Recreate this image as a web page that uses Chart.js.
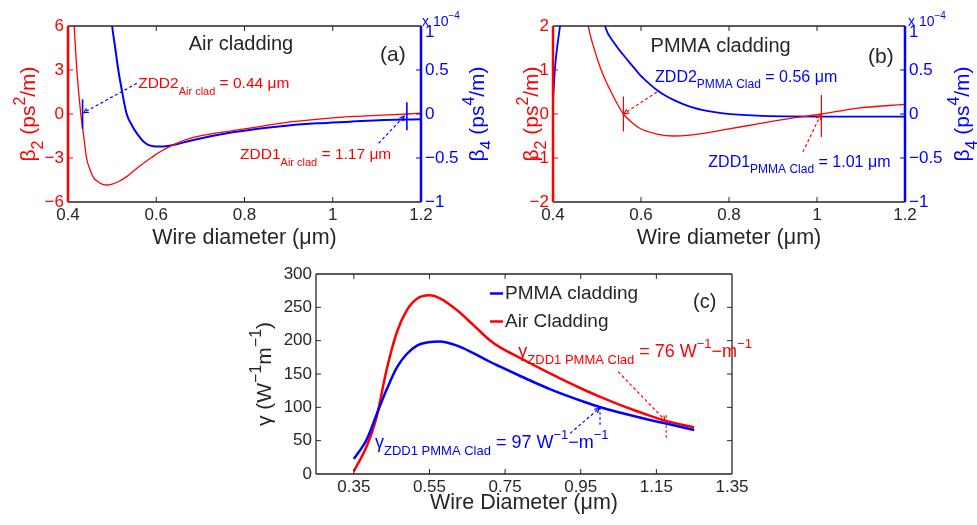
<!DOCTYPE html>
<html>
<head>
<meta charset="utf-8">
<script src="https://cdn.jsdelivr.net/npm/chart.js@4.4.0/dist/chart.umd.min.js"></script>
<style>
  body { margin: 0; background: #fff; width: 977px; height: 525px; position: relative; overflow: hidden; }
  canvas { position: absolute; }
  #chartA { left: 0; top: 0; }
  #chartB { left: 490px; top: 0; }
  #chartC { left: 240px; top: 255px; }
</style>
</head>
<body>
<canvas id="chartA" width="490" height="260"></canvas>
<canvas id="chartB" width="487" height="260"></canvas>
<canvas id="chartC" width="540" height="270"></canvas>
<script>
// ---- (a) Air cladding : beta2 (ps^2/m) and beta4 (x1e-4 ps^4/m) vs wire diameter (um)
const diamAirB2 = [0.411, 0.414, 0.42, 0.429, 0.436, 0.442, 0.45, 0.457, 0.467, 0.477, 0.488, 0.50, 0.515, 0.533, 0.55, 0.571, 0.59, 0.609, 0.646, 0.684, 0.72, 0.76, 0.80, 0.85, 0.90, 0.95, 1.0, 1.05, 1.1, 1.15, 1.17, 1.2];
const beta2Air  = [7.5, 6, 3, 0, -1.6, -3, -3.8, -4.3, -4.6, -4.78, -4.84, -4.78, -4.6, -4.27, -3.85, -3.36, -2.95, -2.57, -2.0, -1.6, -1.38, -1.2, -1.02, -0.78, -0.55, -0.4, -0.27, -0.16, -0.09, -0.03, 0, 0.06];
const diamAirB4 = [0.497, 0.5, 0.507, 0.514, 0.522, 0.533, 0.545, 0.556, 0.575, 0.60, 0.63, 0.684, 0.76, 0.835, 0.90, 0.964, 1.039, 1.115, 1.2];
const beta4Air  = [1.15, 1.0, 0.75, 0.5, 0.27, 0.0, -0.13, -0.22, -0.33, -0.37, -0.36, -0.295, -0.22, -0.165, -0.13, -0.106, -0.087, -0.068, -0.06];

// ---- (b) PMMA cladding
const diamPmmaB2 = [0.477, 0.48, 0.49, 0.507, 0.52, 0.53, 0.545, 0.56, 0.58, 0.598, 0.636, 0.674, 0.711, 0.75, 0.787, 0.863, 0.939, 1.01, 1.09, 1.2];
const beta2Pmma  = [2.2, 2.0, 1.6, 1.07, 0.75, 0.545, 0.25, 0.0, -0.2, -0.33, -0.455, -0.5, -0.48, -0.43, -0.36, -0.23, -0.1, 0.0, 0.13, 0.22];
const diamPmmaB4 = [0.4, 0.405, 0.41, 0.416, 0.42, 0.47, 0.514, 0.518, 0.54, 0.56, 0.58, 0.598, 0.62, 0.636, 0.655, 0.674, 0.711, 0.75, 0.787, 0.863, 0.94, 1.0, 1.1, 1.2];
const beta4Pmma  = [0.15, 0.55, 0.78, 1.0, 1.15, null, 1.1, 1.0, 0.8, 0.67, 0.55, 0.443, 0.34, 0.273, 0.21, 0.16, 0.083, 0.035, 0.008, -0.019, -0.028, -0.03, -0.03, -0.03];

// ---- (c) nonlinear coefficient gamma (W^-1 m^-1)
const diamGammaPmma = [0.35, 0.384, 0.41, 0.437, 0.464, 0.49, 0.517, 0.547, 0.577, 0.623, 0.667, 0.711, 0.737, 0.79, 0.825, 0.87, 0.913, 0.96, 1.0, 1.05, 1.09, 1.13, 1.173, 1.25];
const gammaPmma     = [22.6, 51.8, 89, 127, 160, 180, 192.7, 197.5, 198.7, 192.5, 181, 168, 161, 147, 138, 127, 117.5, 108, 100.5, 92.5, 87, 81.5, 76, 66];
const diamGammaAir  = [0.35, 0.384, 0.41, 0.437, 0.464, 0.49, 0.517, 0.55, 0.579, 0.623, 0.667, 0.711, 0.737, 0.79, 0.825, 0.87, 0.913, 0.96, 1.0, 1.05, 1.09, 1.13, 1.173, 1.25];
const gammaAir      = [4, 41.7, 85, 157, 213, 245.5, 263, 268, 263, 245.5, 223, 200, 190, 174, 163.5, 150.5, 138.5, 126, 116, 104.5, 96, 88, 80, 70];

// tick labels
const diamTicksAB = [0.4, 0.6, 0.8, 1, 1.2];
const beta2TicksA = [-6, -3, 0, 3, 6];
const beta2TicksB = [-2, -1, 0, 1, 2];
const beta4Ticks  = [-1, -0.5, 0, 0.5, 1];
const diamTicksC  = [0.35, 0.55, 0.75, 0.95, 1.15, 1.35];
const gammaTicks  = [0, 50, 100, 150, 200, 250, 300];

const RED = '#ff0000';
const BLUE = '#0000ff';
const INK = '#262626';
const FONT = '"Liberation Sans", Arial, Helvetica, sans-serif';

function toPoints(xs, ys) { return xs.map((x, i) => ({ x: x, y: ys[i] })); }
function fmt(v) { return String(+Number(v).toFixed(2)).replace('-', '\u2212'); }
// top label of the right axis sits a little lower, under the "x 10^-4" multiplier
function fmtRight(v) { return v === 1 ? ['', fmt(v)] : fmt(v); }

// text with sub / superscripts: parts = [[text, 'sub'|'sup'|undefined], ...]
function drawParts(ctx, parts, x, y, size, color, align) {
  const small = Math.round(size * 0.74);
  let w = 0;
  parts.forEach(p => { ctx.font = (p[1] ? small : size) + 'px ' + FONT; w += ctx.measureText(p[0]).width; });
  let cx = align === 'center' ? x - w / 2 : x;
  ctx.fillStyle = color;
  ctx.textAlign = 'left';
  ctx.textBaseline = 'alphabetic';
  parts.forEach(p => {
    ctx.font = (p[1] ? small : size) + 'px ' + FONT;
    const dy = p[1] === 'sub' ? size * 0.4 : (p[1] === 'sup' ? -size * 0.5 : 0);
    ctx.fillText(p[0], cx, y + dy);
    cx += ctx.measureText(p[0]).width;
  });
}

// MATLAB-like box with inward ticks
const framePlugin = {
  id: 'frame',
  afterDraw(chart, args, opts) {
    const { ctx, chartArea: a, scales } = chart;
    const len = 5;
    ctx.save();
    ctx.lineWidth = 1;
    ctx.strokeStyle = INK;
    scales.x.ticks.forEach(t => {
      const p = scales.x.getPixelForValue(t.value);
      if (p < a.left + 2 || p > a.right - 2) return;
      ctx.beginPath();
      ctx.moveTo(p, a.bottom); ctx.lineTo(p, a.bottom - len);
      ctx.moveTo(p, a.top); ctx.lineTo(p, a.top + len);
      ctx.stroke();
    });
    const sideTicks = (scale, x, dir, color) => {
      ctx.strokeStyle = color;
      scale.ticks.forEach(t => {
        const p = scale.getPixelForValue(t.value);
        if (p < a.top + 2 || p > a.bottom - 2) return;
        ctx.beginPath(); ctx.moveTo(x, p); ctx.lineTo(x + dir * len, p); ctx.stroke();
      });
    };
    sideTicks(scales.y, a.left, 1, opts.leftColor);
    sideTicks(scales[opts.rightScale], a.right, -1, opts.rightColor);

    ctx.lineWidth = opts.edgeWidth;
    ctx.strokeStyle = INK;
    ctx.beginPath();
    ctx.moveTo(a.left, a.top); ctx.lineTo(a.right, a.top);
    ctx.moveTo(a.left, a.bottom); ctx.lineTo(a.right, a.bottom);
    ctx.stroke();
    ctx.lineWidth = opts.sideWidth;
    ctx.strokeStyle = opts.leftColor;
    ctx.beginPath(); ctx.moveTo(a.left, a.top); ctx.lineTo(a.left, a.bottom); ctx.stroke();
    ctx.strokeStyle = opts.rightColor;
    ctx.beginPath(); ctx.moveTo(a.right, a.top); ctx.lineTo(a.right, a.bottom); ctx.stroke();
    ctx.restore();
  }
};

// labels, arrows, markers, axis titles, legend
const notesPlugin = {
  id: 'notes',
  afterDraw(chart, args, opts) {
    const { ctx, chartArea: a, scales } = chart;
    const px = v => scales.x.getPixelForValue(v);
    (opts.items || []).forEach(it => {
      const ys = scales[it.scale || 'y'];
      ctx.save();
      if (it.type === 'text') {
        drawParts(ctx, it.parts, px(it.x), ys.getPixelForValue(it.y), it.size, it.color, it.align);
      } else if (it.type === 'arrow') {
        const x0 = px(it.x0), y0 = ys.getPixelForValue(it.y0);
        const x1 = px(it.x1), y1 = ys.getPixelForValue(it.y1);
        ctx.strokeStyle = it.color;
        ctx.lineWidth = 1.2;
        ctx.setLineDash([3, 2.5]);
        ctx.beginPath(); ctx.moveTo(x0, y0); ctx.lineTo(x1, y1); ctx.stroke();
        ctx.setLineDash([]);
        const ang = Math.atan2(y1 - y0, x1 - x0);
        ctx.beginPath();
        ctx.moveTo(x1 - 5 * Math.cos(ang - 0.5), y1 - 5 * Math.sin(ang - 0.5));
        ctx.lineTo(x1, y1);
        ctx.lineTo(x1 - 5 * Math.cos(ang + 0.5), y1 - 5 * Math.sin(ang + 0.5));
        ctx.stroke();
      } else if (it.type === 'mark') {
        const x = px(it.x);
        ctx.strokeStyle = it.color;
        ctx.lineWidth = it.width || 1.3;
        if (it.dash) ctx.setLineDash([2.5, 2.5]);
        ctx.beginPath();
        ctx.moveTo(x, ys.getPixelForValue(it.y0));
        ctx.lineTo(x, ys.getPixelForValue(it.y1));
        ctx.stroke();
      } else if (it.type === 'ytitle') {
        const bx = it.side === 'left' ? a.left - it.offset : a.right + it.offset;
        ctx.translate(bx, (a.top + a.bottom) / 2);
        ctx.rotate(-Math.PI / 2);
        drawParts(ctx, it.parts, 0, 0, it.size, it.color, 'center');
      } else if (it.type === 'corner') {
        drawParts(ctx, it.parts, a.right + it.dx, a.top + it.dy, it.size, it.color, 'left');
      } else if (it.type === 'legend') {
        chart.data.datasets.forEach((ds, i) => {
          const y = a.top + it.dy + i * it.gap;
          const x = a.left + it.dx;
          ctx.strokeStyle = ds.borderColor;
          ctx.lineWidth = ds.borderWidth;
          ctx.beginPath(); ctx.moveTo(x, y); ctx.lineTo(x + 13, y); ctx.stroke();
          ctx.fillStyle = INK;
          ctx.font = it.size + 'px ' + FONT;
          ctx.textBaseline = 'middle';
          ctx.fillText(ds.label, x + 15, y);
        });
      }
      ctx.restore();
    });
  }
};

function xScale(min, max, tickList, title, height, titlePad) {
  return {
    type: 'linear', min: min, max: max,
    afterBuildTicks: s => { s.ticks = tickList.map(v => ({ value: v })); },
    afterFit: s => { s.height = height; },
    ticks: { color: INK, font: { size: 17, family: FONT }, padding: 3, maxRotation: 0, callback: fmt },
    grid: { display: false, drawTicks: false },
    border: { display: false },
    title: { display: true, text: title, color: INK, font: { size: 21.5, family: FONT }, padding: { top: 0, bottom: titlePad } }
  };
}

function yScale(min, max, tickList, position, color, width, labelFn) {
  return {
    type: 'linear', min: min, max: max, position: position,
    afterBuildTicks: s => { s.ticks = tickList.map(v => ({ value: v })); },
    afterFit: s => { s.width = width; },
    ticks: { color: color, font: { size: 17, family: FONT, lineHeight: 0.7 }, padding: 4, callback: labelFn || fmt },
    grid: { display: false, drawTicks: false },
    border: { display: false }
  };
}

function baseOptions(scales, padding, frame, items) {
  return {
    responsive: false,
    animation: false,
    devicePixelRatio: 1,
    events: [],
    layout: { padding: padding },
    elements: {
      point: { radius: 0 },
      line: { cubicInterpolationMode: 'monotone', fill: false }
    },
    scales: scales,
    plugins: {
      legend: { display: false },
      tooltip: { enabled: false },
      frame: frame,
      notes: { items: items }
    }
  };
}

// ---------- (a)
new Chart(document.getElementById('chartA'), {
  type: 'line',
  data: { datasets: [
    { label: 'beta2 air', data: toPoints(diamAirB2, beta2Air), yAxisID: 'y', borderColor: RED, borderWidth: 1.3 },
    { label: 'beta4 air', data: toPoints(diamAirB4, beta4Air), yAxisID: 'y1', borderColor: BLUE, borderWidth: 2 }
  ]},
  options: baseOptions(
    {
      x: xScale(0.4, 1.2, diamTicksAB, 'Wire diameter (\u03bcm)', 58, 9),
      y: yScale(-6, 6, beta2TicksA, 'left', RED, 68),
      y1: yScale(-1, 1, beta4Ticks, 'right', BLUE, 69, fmtRight)
    },
    { left: 0, right: 0, top: 26, bottom: 0 },
    { leftColor: RED, rightColor: BLUE, rightScale: 'y1', sideWidth: 2.5, edgeWidth: 1.3 },
    [
      { type: 'ytitle', side: 'left', offset: 33, size: 21, color: RED, parts: [['\u03b2'], ['2', 'sub'], [' (ps'], ['2', 'sup'], ['/m)']] },
      { type: 'ytitle', side: 'right', offset: 63, size: 21, color: BLUE, parts: [['\u03b2'], ['4', 'sub'], [' (ps'], ['4', 'sup'], ['/m)']] },
      { type: 'corner', dx: 1, dy: 0, size: 14, color: BLUE, parts: [['x 10'], ['\u22124', 'sup']] },
      { type: 'text', x: 0.792, y: 4.36, size: 20, color: INK, align: 'center', parts: [['Air cladding']] },
      { type: 'text', x: 1.107, y: 3.61, size: 21, color: INK, parts: [['(a)']] },
      { type: 'mark', x: 0.433, y0: 1, y1: -1, color: BLUE, width: 1.6 },
      { type: 'mark', x: 1.168, y0: 0.8, y1: -1.1, color: BLUE, width: 1.6 },
      { type: 'arrow', x0: 0.556, y0: 2.09, x1: 0.436, y1: 0.1, color: BLUE },
      { type: 'arrow', x0: 1.104, y0: -2.0, x1: 1.162, y1: -0.15, color: BLUE },
      { type: 'text', x: 0.559, y: 1.75, size: 15.5, color: RED, parts: [['ZDD2'], ['Air clad', 'sub'], [' = 0.44 \u03bcm']] },
      { type: 'text', x: 0.790, y: -3.09, size: 15.5, color: RED, parts: [['ZDD1'], ['Air clad', 'sub'], [' = 1.17 \u03bcm']] }
    ]
  ),
  plugins: [framePlugin, notesPlugin]
});

// ---------- (b)
new Chart(document.getElementById('chartB'), {
  type: 'line',
  data: { datasets: [
    { label: 'beta2 pmma', data: toPoints(diamPmmaB2, beta2Pmma), yAxisID: 'y', borderColor: RED, borderWidth: 1.3 },
    { label: 'beta4 pmma', data: toPoints(diamPmmaB4, beta4Pmma), yAxisID: 'y1', borderColor: BLUE, borderWidth: 1.8, spanGaps: false }
  ]},
  options: baseOptions(
    {
      x: xScale(0.4, 1.2, diamTicksAB, 'Wire diameter (\u03bcm)', 58, 9),
      y: yScale(-2, 2, beta2TicksB, 'left', RED, 63),
      y1: yScale(-1, 1, beta4Ticks, 'right', BLUE, 72, fmtRight)
    },
    { left: 0, right: 0, top: 26, bottom: 0 },
    { leftColor: RED, rightColor: BLUE, rightScale: 'y1', sideWidth: 2.5, edgeWidth: 1.3 },
    [
      { type: 'ytitle', side: 'left', offset: 15, size: 21, color: RED, parts: [['\u03b2'], ['2', 'sub'], [' (ps'], ['2', 'sup'], ['/m)']] },
      { type: 'ytitle', side: 'right', offset: 64, size: 21, color: BLUE, parts: [['\u03b2'], ['4', 'sub'], [' (ps'], ['4', 'sup'], ['/m)']] },
      { type: 'corner', dx: 3, dy: 0, size: 14, color: BLUE, parts: [['x 10'], ['\u22124', 'sup']] },
      { type: 'text', x: 0.781, y: 1.41, size: 20, color: INK, align: 'center', parts: [['PMMA cladding']] },
      { type: 'text', x: 1.116, y: 1.16, size: 21, color: INK, parts: [['(b)']] },
      { type: 'mark', x: 0.56, y0: 0.4, y1: -0.4, color: RED, width: 1.2 },
      { type: 'mark', x: 1.01, y0: 0.43, y1: -0.52, color: RED, width: 1.2 },
      { type: 'arrow', x0: 0.636, y0: 0.5, x1: 0.562, y1: 0.01, color: RED },
      { type: 'arrow', x0: 0.968, y0: -0.86, x1: 1.008, y1: -0.03, color: RED },
      { type: 'text', x: 0.632, y: 0.727, size: 16, color: BLUE, parts: [['ZDD2'], ['PMMA Clad', 'sub'], [' = 0.56 \u03bcm']] },
      { type: 'text', x: 0.753, y: -1.2, size: 16, color: BLUE, parts: [['ZDD1'], ['PMMA Clad', 'sub'], [' = 1.01 \u03bcm']] }
    ]
  ),
  plugins: [framePlugin, notesPlugin]
});

// ---------- (c)
new Chart(document.getElementById('chartC'), {
  type: 'line',
  data: { datasets: [
    { label: 'PMMA cladding', data: toPoints(diamGammaPmma, gammaPmma), borderColor: BLUE, borderWidth: 2.5 },
    { label: 'Air Cladding', data: toPoints(diamGammaAir, gammaAir), borderColor: RED, borderWidth: 2.5 }
  ]},
  options: baseOptions(
    {
      x: xScale(0.25, 1.35, diamTicksC, 'Wire Diameter (\u03bcm)', 51, 9),
      y: yScale(0, 300, gammaTicks, 'left', INK, 76)
    },
    { left: 0, right: 48, top: 19, bottom: 0 },
    { leftColor: INK, rightColor: INK, rightScale: 'y', sideWidth: 1.3, edgeWidth: 1.3 },
    [
      { type: 'ytitle', side: 'left', offset: 45, size: 21, color: INK, parts: [['\u03b3 (W'], ['\u22121', 'sup'], ['m'], ['\u22121', 'sup'], [')']] },
      { type: 'legend', dx: 174, dy: 19.5, gap: 28, size: 19 },
      { type: 'text', x: 1.247, y: 249, size: 20, color: INK, parts: [['(c)']] },
      { type: 'mark', x: 1.176, y0: 88, y1: 53, color: RED, width: 1.2, dash: true },
      { type: 'mark', x: 1.001, y0: 100, y1: 72, color: BLUE, width: 1.2, dash: true },
      { type: 'arrow', x0: 1.049, y0: 153.5, x1: 1.173, y1: 80.5, color: RED },
      { type: 'arrow', x0: 0.922, y0: 61, x1: 0.999, y1: 98.5, color: BLUE },
      { type: 'text', x: 0.785, y: 176, size: 18, color: RED, parts: [['\u03b3'], ['ZDD1 PMMA Clad', 'sub'], [' = 76 W'], ['\u22121', 'sup'], ['\u2212m'], ['\u22121', 'sup']] },
      { type: 'text', x: 0.406, y: 39, size: 18, color: BLUE, parts: [['\u03b3'], ['ZDD1 PMMA Clad', 'sub'], [' = 97 W'], ['\u22121', 'sup'], ['\u2212m'], ['\u22121', 'sup']] }
    ]
  ),
  plugins: [framePlugin, notesPlugin]
});
</script>
</body>
</html>
